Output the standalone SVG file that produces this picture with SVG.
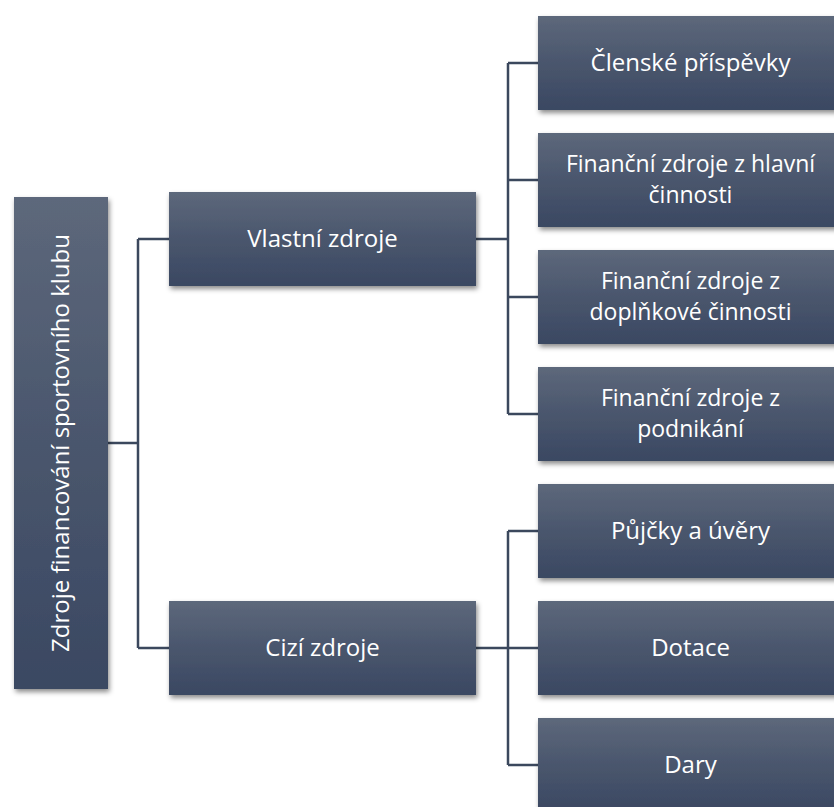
<svg xmlns="http://www.w3.org/2000/svg" width="834" height="807" viewBox="0 0 834 807">
<style>
.box{fill:url(#g);filter:url(#sh)}
.t{font-family:"Open Sans","Noto Sans",sans-serif;font-size:24px;fill:#ffffff;text-anchor:middle;dominant-baseline:central}
.t2{font-size:23px}
.c{fill:none;stroke:#3b485d;stroke-width:2.5}
</style>
<defs>
<linearGradient id="g" x1="0" y1="0" x2="0" y2="1">
<stop offset="0" stop-color="#5d687b"/>
<stop offset="0.5" stop-color="#4a566d"/>
<stop offset="1" stop-color="#3a4862"/>
</linearGradient>
<filter id="sh" x="-10%" y="-10%" width="130%" height="130%">
<feDropShadow dx="1.5" dy="3" stdDeviation="2.5" flood-color="#000" flood-opacity="0.45"/>
</filter>
</defs>
<rect width="834" height="807" fill="#ffffff"/>
<g id="connectors">
<path class="c" d="M108 443H138M138 239V648M138 239H169M138 648H169"/>
<path class="c" d="M476 239H508M508 63V414M508 63H538M508 180H538M508 297H538M508 414H538"/>
<path class="c" d="M476 648H508M508 531V765M508 531H538M508 648H538M508 765H538"/>
</g>
<g id="root">
<rect class="box" x="14" y="197" width="94" height="492"/>
<text class="t" transform="translate(59 443) rotate(-90)">Zdroje financování sportovního klubu</text>
</g>
<g id="vlastni">
<rect class="box" x="169" y="192" width="307" height="94"/>
<text class="t" x="322.5" y="237">Vlastní zdroje</text>
</g>
<g id="cizi">
<rect class="box" x="169" y="601" width="307" height="94"/>
<text class="t" x="322.5" y="646">Cizí zdroje</text>
</g>
<g id="clenske">
<rect class="box" x="538" y="16" width="305" height="94"/>
<text class="t" x="690.5" y="61">Členské příspěvky</text>
</g>
<g id="hlavni">
<rect class="box" x="538" y="133" width="305" height="94"/>
<text class="t t2" x="690.5" y="162.8"><tspan x="690.5">Finanční zdroje z hlavní</tspan><tspan x="690.5" dy="31.5">činnosti</tspan></text>
</g>
<g id="doplnkove">
<rect class="box" x="538" y="250" width="305" height="94"/>
<text class="t t2" x="690.5" y="279.8"><tspan x="690.5">Finanční zdroje z</tspan><tspan x="690.5" dy="31.5">doplňkové činnosti</tspan></text>
</g>
<g id="podnikani">
<rect class="box" x="538" y="367" width="305" height="94"/>
<text class="t t2" x="690.5" y="396.8"><tspan x="690.5">Finanční zdroje z</tspan><tspan x="690.5" dy="31.5">podnikání</tspan></text>
</g>
<g id="pujcky">
<rect class="box" x="538" y="484" width="305" height="94"/>
<text class="t" x="690.5" y="529">Půjčky a úvěry</text>
</g>
<g id="dotace">
<rect class="box" x="538" y="601" width="305" height="94"/>
<text class="t" x="690.5" y="646">Dotace</text>
</g>
<g id="dary">
<rect class="box" x="538" y="718" width="305" height="94"/>
<text class="t" x="690.5" y="763">Dary</text>
</g>
</svg>
